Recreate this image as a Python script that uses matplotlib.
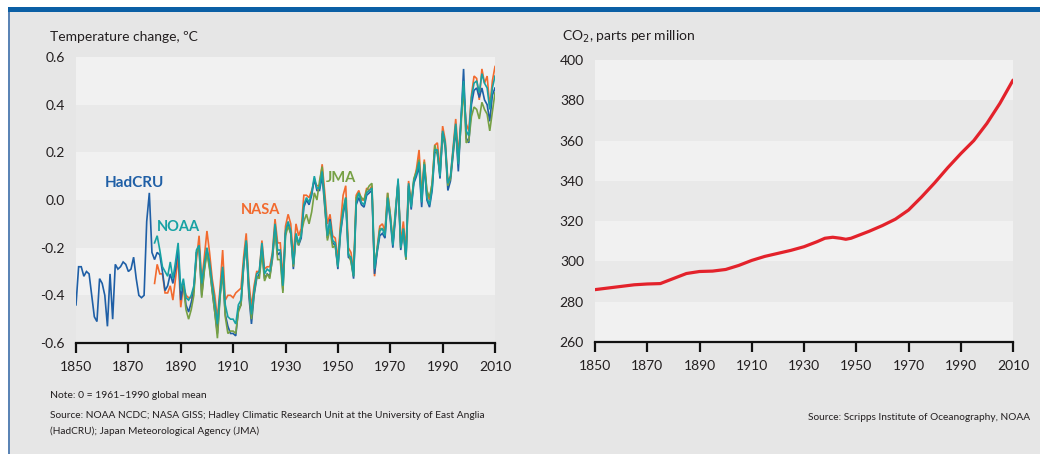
import numpy as np
import matplotlib
matplotlib.use("Agg")
import matplotlib.pyplot as plt
from matplotlib.patches import Rectangle

plt.rcParams["font.family"] = ["Lato", "DejaVu Sans"]

# ---- Temperature anomalies, deg C relative to 1961-1990 mean ----
hadcru_start = 1850
hadcru = [
    -0.44, -0.28, -0.28, -0.32, -0.30, -0.31, -0.40, -0.49, -0.51, -0.33,
    -0.35, -0.40, -0.53, -0.31, -0.50, -0.27, -0.29, -0.28, -0.26, -0.27,
    -0.30, -0.29, -0.24, -0.33, -0.40, -0.41, -0.40, -0.09, 0.03, -0.22,
    -0.25, -0.22, -0.23, -0.30, -0.38, -0.36, -0.31, -0.35, -0.29, -0.20,
    -0.42, -0.35, -0.44, -0.47, -0.43, -0.38, -0.22, -0.20, -0.40, -0.29,
    -0.21, -0.28, -0.38, -0.47, -0.56, -0.40, -0.30, -0.48, -0.53, -0.56,
    -0.56, -0.57, -0.46, -0.44, -0.28, -0.18, -0.40, -0.52, -0.40, -0.33,
    -0.31, -0.20, -0.33, -0.31, -0.32, -0.25, -0.12, -0.23, -0.22, -0.38,
    -0.14, -0.10, -0.14, -0.29, -0.15, -0.19, -0.16, -0.03, 0.00, -0.02,
    0.02, 0.09, 0.04, 0.04, 0.10, -0.03, -0.16, -0.08, -0.18, -0.19,
    -0.29, -0.14, -0.06, 0.00, -0.24, -0.25, -0.33, -0.02, 0.01, -0.02,
    -0.03, 0.02, 0.03, 0.04, -0.31, -0.22, -0.15, -0.14, -0.16, 0.00,
    -0.08, -0.20, -0.07, 0.08, -0.21, -0.13, -0.25, 0.06, -0.04, 0.07,
    0.10, 0.14, -0.03, 0.15, 0.00, -0.03, 0.04, 0.20, 0.20, 0.09,
    0.28, 0.22, 0.04, 0.08, 0.19, 0.30, 0.12, 0.33, 0.55, 0.26,
    0.24, 0.40, 0.46, 0.47, 0.43, 0.47, 0.42, 0.40, 0.33, 0.44, 0.47,
]

noaa_start = 1880
noaa = [
    -0.18, -0.15, -0.21, -0.28, -0.30, -0.32, -0.26, -0.33, -0.26, -0.18,
    -0.38, -0.33, -0.41, -0.42, -0.40, -0.36, -0.21, -0.19, -0.35, -0.27,
    -0.20, -0.26, -0.35, -0.43, -0.52, -0.39, -0.28, -0.44, -0.49, -0.50,
    -0.50, -0.52, -0.44, -0.42, -0.27, -0.17, -0.37, -0.48, -0.38, -0.31,
    -0.30, -0.18, -0.31, -0.29, -0.30, -0.23, -0.10, -0.21, -0.21, -0.36,
    -0.13, -0.09, -0.13, -0.27, -0.14, -0.18, -0.15, -0.02, 0.01, -0.01,
    0.03, 0.10, 0.05, 0.05, 0.12, 0.00, -0.15, -0.09, -0.17, -0.18,
    -0.28, -0.13, -0.05, 0.01, -0.23, -0.24, -0.32, -0.01, 0.03, -0.01,
    -0.02, 0.03, 0.04, 0.05, -0.29, -0.21, -0.13, -0.12, -0.15, 0.01,
    -0.07, -0.19, -0.05, 0.09, -0.20, -0.12, -0.24, 0.07, -0.03, 0.08,
    0.11, 0.16, -0.01, 0.15, 0.01, -0.02, 0.05, 0.21, 0.21, 0.10,
    0.29, 0.24, 0.07, 0.10, 0.21, 0.32, 0.15, 0.34, 0.50, 0.29,
    0.27, 0.43, 0.49, 0.50, 0.45, 0.53, 0.49, 0.47, 0.38, 0.47, 0.52,
]

nasa_start = 1880
nasa = [
    -0.35, -0.27, -0.31, -0.31, -0.39, -0.39, -0.36, -0.42, -0.33, -0.24,
    -0.45, -0.36, -0.40, -0.41, -0.41, -0.37, -0.25, -0.15, -0.34, -0.24,
    -0.13, -0.22, -0.33, -0.40, -0.50, -0.37, -0.21, -0.42, -0.40, -0.40,
    -0.41, -0.39, -0.38, -0.37, -0.24, -0.14, -0.34, -0.45, -0.36, -0.30,
    -0.30, -0.17, -0.29, -0.28, -0.28, -0.22, -0.08, -0.18, -0.18, -0.33,
    -0.11, -0.06, -0.10, -0.24, -0.10, -0.15, -0.12, 0.02, 0.02, 0.01,
    0.04, 0.08, 0.06, 0.06, 0.15, 0.03, -0.10, -0.06, -0.15, -0.16,
    -0.25, -0.10, 0.02, 0.06, -0.20, -0.22, -0.30, 0.02, 0.04, 0.00,
    0.00, 0.05, 0.04, 0.06, -0.32, -0.20, -0.11, -0.10, -0.13, 0.03,
    -0.06, -0.18, -0.06, 0.08, -0.18, -0.09, -0.21, 0.08, -0.01, 0.08,
    0.13, 0.21, 0.02, 0.17, 0.03, 0.00, 0.07, 0.23, 0.24, 0.13,
    0.31, 0.25, 0.08, 0.10, 0.22, 0.34, 0.19, 0.33, 0.46, 0.32,
    0.29, 0.44, 0.52, 0.51, 0.42, 0.55, 0.49, 0.52, 0.39, 0.50, 0.56,
]

jma_start = 1891
jma = [
    -0.36, -0.46, -0.50, -0.46, -0.40, -0.22, -0.20, -0.41, -0.30,
    -0.22, -0.29, -0.38, -0.47, -0.58, -0.41, -0.30, -0.49, -0.56, -0.55,
    -0.55, -0.56, -0.47, -0.44, -0.28, -0.17, -0.38, -0.50, -0.39, -0.32,
    -0.33, -0.22, -0.34, -0.31, -0.33, -0.24, -0.13, -0.25, -0.25, -0.39,
    -0.15, -0.11, -0.14, -0.28, -0.15, -0.19, -0.14, -0.09, -0.06, -0.10,
    -0.05, 0.03, 0.00, 0.08, 0.14, -0.02, -0.17, -0.12, -0.20, -0.19,
    -0.28, -0.12, -0.04, 0.01, -0.22, -0.26, -0.32, 0.01, 0.03, 0.01,
    0.00, 0.04, 0.06, 0.07, -0.27, -0.21, -0.12, -0.12, -0.14, 0.03,
    -0.06, -0.18, -0.04, 0.07, -0.20, -0.12, -0.25, 0.05, -0.02, 0.09,
    0.12, 0.17, 0.01, 0.16, 0.04, 0.01, 0.07, 0.23, 0.19, 0.11,
    0.28, 0.23, 0.06, 0.09, 0.20, 0.31, 0.16, 0.31, 0.48, 0.24,
    0.25, 0.35, 0.39, 0.38, 0.34, 0.41, 0.38, 0.36, 0.29, 0.37, 0.45,
]

# ---- Atmospheric CO2, parts per million ----
co2_years = [1850, 1855, 1860, 1865, 1870, 1875, 1880, 1885, 1890, 1895,
             1900, 1905, 1910, 1915, 1920, 1925, 1930, 1935, 1938, 1941,
             1944, 1946, 1948, 1950, 1955, 1960, 1965, 1970, 1975, 1980,
             1985, 1990, 1995, 2000, 2005, 2010]
co2_ppm = [286.0, 286.8, 287.6, 288.4, 288.8, 289.0, 291.5, 294.0, 295.0, 295.2,
           296.0, 298.0, 300.5, 302.5, 304.0, 305.5, 307.3, 309.8, 311.5, 312.0,
           311.5, 311.0, 311.5, 312.5, 315.0, 317.8, 321.0, 325.5, 332.0, 339.0,
           346.5, 353.5, 360.0, 368.5, 378.5, 390.0]

year_ticks = [1850, 1870, 1890, 1910, 1930, 1950, 1970, 1990, 2010]
temp_ticks = [0.6, 0.4, 0.2, 0.0, -0.2, -0.4, -0.6]
co2_ticks = [400, 380, 360, 340, 320, 300, 280, 260]

# ---- Styling ----
OUTER = "#e6e6e6"
BAND_LIGHT = "#f1f1f1"
BAND_DARK = "#e9e9e9"
FRAME_BLUE = "#0b5fa5"
TEXT = "#231f20"
C_HAD = "#1f5fa6"
C_NOAA = "#17a2a4"
C_NASA = "#f26a2e"
C_JMA = "#76a044"
C_CO2 = "#e3222b"

W, H = 1040, 454
fig = plt.figure(figsize=(W / 100, H / 100), dpi=100)
fig.patch.set_facecolor("white")

# panel background and frame (behind the axes)
fig.patches.append(Rectangle((9 / W, 0), 1, (H - 12) / H, transform=fig.transFigure,
                             facecolor=OUTER, edgecolor="none", zorder=-3))
fig.patches.append(Rectangle((8 / W, (H - 12) / H), 1, 5 / H, transform=fig.transFigure,
                             facecolor=FRAME_BLUE, edgecolor="none", zorder=-2))
fig.patches.append(Rectangle((8 / W, 0), 2 / W, (H - 12) / H, transform=fig.transFigure,
                             facecolor="#5b84b5", edgecolor="none", zorder=-2))


def style_axes(ax, ticks, xlim, ylim, fmt):
    ax.set_facecolor(OUTER)
    ax.patch.set_alpha(0)
    ax.set_xlim(*xlim)
    ax.set_ylim(*ylim)
    for s in ax.spines.values():
        s.set_visible(False)
    ax.spines["bottom"].set_visible(True)
    ax.spines["bottom"].set_linewidth(1.6)
    ax.spines["bottom"].set_color("#111111")
    ax.spines["bottom"].set_zorder(4)
    ax.set_xticks(year_ticks)
    ax.set_xticklabels([str(y) for y in year_ticks])
    ax.set_yticks(ticks)
    ax.set_yticklabels([fmt(t) for t in ticks])
    ax.tick_params(axis="x", direction="out", length=7, width=1.6, color="#111111",
                   labelsize=10, labelcolor=TEXT, pad=6)
    ax.tick_params(axis="y", length=0, labelsize=10, labelcolor=TEXT, pad=8)
    # alternating horizontal bands
    sorted_t = sorted(ticks, reverse=True)
    for i in range(len(sorted_t) - 1):
        hi, lo = sorted_t[i], sorted_t[i + 1]
        ax.axhspan(lo, hi, color=BAND_LIGHT if i % 2 == 0 else BAND_DARK,
                   lw=0, zorder=0)


# ---- Left: temperature ----
axL = fig.add_axes([76 / W, 1 - 343 / H, (495 - 76) / W, (343 - 57) / H])
style_axes(axL, temp_ticks, (1850, 2010), (-0.6, 0.6),
           lambda t: f"{t:.1f}")

for start, vals, col in [(nasa_start, nasa, C_NASA),
                         (hadcru_start, hadcru, C_HAD),
                         (jma_start, jma, C_JMA),
                         (noaa_start, noaa, C_NOAA)]:
    yrs = np.arange(start, start + len(vals))
    axL.plot(yrs, vals, color=col, lw=1.2, zorder=3, solid_joinstyle="miter")

label_kw = dict(fontweight="bold", zorder=5)
axL.text(1860.8, 0.055, "HadCRU", color=C_HAD, fontsize=11, **label_kw)
axL.text(1881, -0.13, "NOAA", color=C_NOAA, fontsize=10.5, **label_kw)
axL.text(1913, -0.06, "NASA", color=C_NASA, fontsize=10.5, **label_kw)
axL.text(1945.5, 0.075, "JMA", color=C_JMA, fontsize=10.5, **label_kw)

fig.text(50 / W, 1 - 37 / H, "Temperature change, ºC", fontsize=10, color=TEXT,
         va="center", ha="left")
fig.text(50 / W, 1 - 395 / H, "Note: 0 = 1961–1990 global mean", fontsize=7.5,
         color=TEXT, va="center", ha="left")
fig.text(50 / W, 1 - 415 / H,
         "Source: NOAA NCDC; NASA GISS; Hadley Climatic Research Unit at the University of East Anglia",
         fontsize=7.3, color=TEXT, va="center", ha="left")
fig.text(50 / W, 1 - 431 / H, "(HadCRU); Japan Meteorological Agency (JMA)",
         fontsize=7.3, color=TEXT, va="center", ha="left")

# ---- Right: CO2 ----
axR = fig.add_axes([595 / W, 1 - 342 / H, (1013 - 595) / W, (342 - 60) / H])
style_axes(axR, co2_ticks, (1850, 2010), (260, 400), lambda t: f"{t:d}")
axR.plot(co2_years, co2_ppm, color=C_CO2, lw=2.3, zorder=3,
         solid_capstyle="round", solid_joinstyle="round")

fig.text(562 / W, 1 - 37 / H, "CO$_2$, parts per million", fontsize=10, color=TEXT,
         va="center", ha="left")
fig.text(1030 / W, 1 - 417 / H, "Source: Scripps Institute of Oceanography, NOAA",
         fontsize=7.3, color=TEXT, va="center", ha="right")

fig.savefig("out.png", dpi=100, facecolor=fig.get_facecolor())
